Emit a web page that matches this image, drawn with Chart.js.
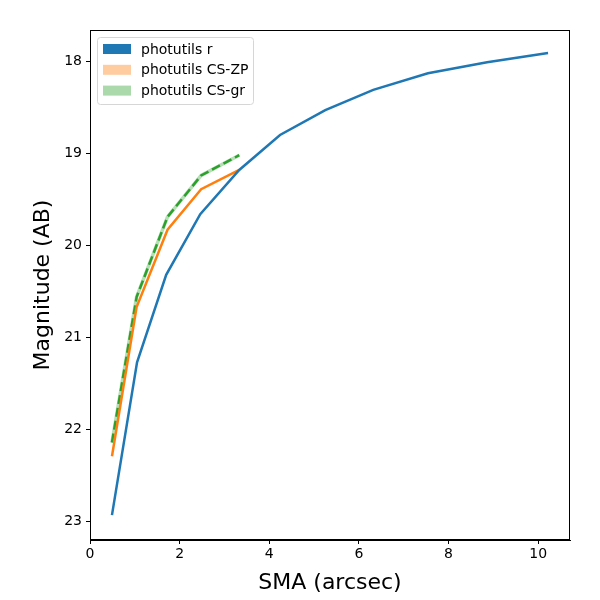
<!DOCTYPE html>
<html>
<head>
<meta charset="utf-8">
<script src="https://cdn.jsdelivr.net/npm/chart.js@4"></script>
<style>
  body { margin: 0; background: #fff; }
  #wrap { width: 600px; height: 600px; }
</style>
</head>
<body>
<div id="wrap"><canvas id="myChart"></canvas></div>
<script>
// data
const smaR = [0.49, 1.05, 1.7, 2.46, 3.33, 4.24, 5.25, 6.32, 7.54, 8.86, 10.22];
const magR = [22.93, 21.27, 20.32, 19.66, 19.18, 18.8, 18.53, 18.31, 18.13, 18.01, 17.91];
const smaCS = [0.49, 1.04, 1.73, 2.48, 3.33];
const magZP = [22.29, 20.67, 19.83, 19.39, 19.18];
const magGR = [22.14, 20.56, 19.69, 19.24, 19.02];
const xTicks = [0, 2, 4, 6, 8, 10];
const yTicks = [18, 19, 20, 21, 22, 23];

const pts = (xs, ys) => xs.map((x, i) => ({ x: x, y: ys[i] }));

// legend entries are drawn as patches inside the axes
const legendItems = [
  { label: "photutils r", color: "#1f77b4" },
  { label: "photutils CS-ZP", color: "rgba(255,127,14,0.4)" },
  { label: "photutils CS-gr", color: "rgba(44,160,44,0.4)" },
];

const frameAndLegend = {
  id: "frameAndLegend",
  afterDraw(chart) {
    const c = chart.ctx;
    const a = chart.chartArea;
    c.save();
    c.strokeStyle = "#000";
    c.lineWidth = 1;
    c.strokeRect(a.left + 0.5, a.top + 0.5, a.right - a.left - 1, a.bottom - a.top - 1);

    // legend box
    const bx = a.left + 7, by = a.top + 7, bw = 156, bh = 67;
    c.fillStyle = "rgba(255,255,255,0.8)";
    c.strokeStyle = "#d6d6d6";
    c.beginPath();
    c.roundRect(bx + 0.5, by + 0.5, bw, bh, 3);
    c.fill();
    c.stroke();
    c.font = "14px 'DejaVu Sans'";
    c.textBaseline = "middle";
    legendItems.forEach((it, i) => {
      const yy = by + 12 + i * 20.8;
      c.fillStyle = it.color;
      c.fillRect(bx + 6, yy - 5, 28, 10);
      c.fillStyle = "#000";
      c.fillText(it.label, bx + 44, yy + 1);
    });
    c.restore();
  },
};

const ctx = document.getElementById("myChart").getContext("2d");
const chart = new Chart(ctx, {
  type: "line",
  data: {
    datasets: [
      {
        label: "photutils r",
        data: pts(smaR, magR),
        borderColor: "#1f77b4",
        borderWidth: 2.5,
        pointRadius: 0,
        tension: 0,
      },
      {
        label: "photutils CS-ZP",
        data: pts(smaCS, magZP),
        borderColor: "#ff7f0e",
        borderWidth: 2.5,
        pointRadius: 0,
        tension: 0,
      },
      {
        label: "photutils CS-gr",
        data: pts(smaCS, magGR),
        borderColor: "#2ca02c",
        borderWidth: 2.5,
        borderDash: [9, 4],
        pointRadius: 0,
        tension: 0,
      },
      {
        // faint shade behind the dashed line
        label: "CS-gr band",
        data: pts(smaCS, magGR),
        borderColor: "rgba(44,160,44,0.35)",
        borderWidth: 3.5,
        pointRadius: 0,
        tension: 0,
      },
    ],
  },
  options: {
    responsive: true,
    maintainAspectRatio: false,
    animation: false,
    layout: { padding: { top: 30, right: 30, left: 26, bottom: 0 } },
    plugins: {
      legend: { display: false },
      tooltip: { enabled: false },
    },
    scales: {
      x: {
        type: "linear",
        min: 0,
        max: 10.71,
        afterBuildTicks: (axis) => { axis.ticks = xTicks.map((v) => ({ value: v })); },
        afterFit: (axis) => { axis.height = 60; },
        grid: { drawOnChartArea: false, drawTicks: true, tickLength: 4, color: "#000" },
        border: { color: "#000" },
        ticks: { color: "#000", font: { family: "DejaVu Sans", size: 14 }, maxRotation: 0, padding: 2 },
        title: {
          display: true,
          text: "SMA (arcsec)",
          color: "#000",
          font: { family: "DejaVu Sans", size: 22 },
          padding: { top: 4 },
        },
      },
      y: {
        type: "linear",
        reverse: true,
        min: 17.66,
        max: 23.2,
        afterBuildTicks: (axis) => { axis.ticks = yTicks.map((v) => ({ value: v })); },
        afterFit: (axis) => { axis.width = 64; },
        grid: { drawOnChartArea: false, drawTicks: true, tickLength: 4, color: "#000" },
        border: { color: "#000" },
        ticks: { color: "#000", font: { family: "DejaVu Sans", size: 14 }, padding: 4 },
        title: {
          display: true,
          text: "Magnitude (AB)",
          color: "#000",
          font: { family: "DejaVu Sans", size: 22 },
          padding: { top: 4, bottom: 4 },
        },
      },
    },
  },
  plugins: [frameAndLegend],
});
</script>
</body>
</html>
